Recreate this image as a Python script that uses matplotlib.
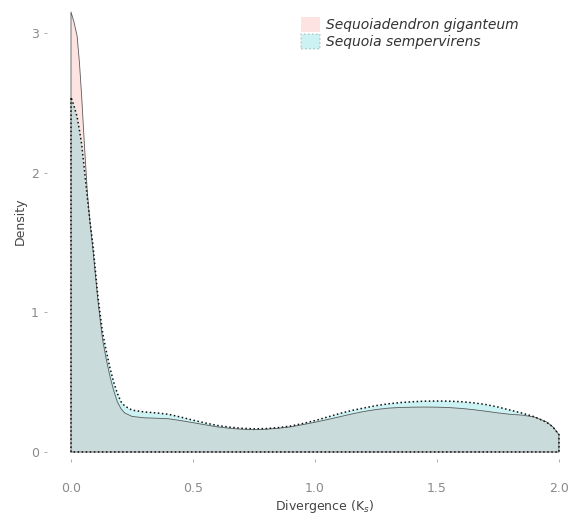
import numpy as np
import matplotlib.pyplot as plt
from matplotlib.patches import Patch

plt.rcParams['font.family'] = ['DejaVu Sans']

# divergence grid (Ks) and densities
ks = [0.0, 0.012, 0.025, 0.035, 0.044, 0.055, 0.067, 0.078, 0.09, 0.1, 0.11,
      0.12, 0.13, 0.145, 0.16, 0.175, 0.19, 0.205, 0.22, 0.25, 0.3, 0.35,
      0.4, 0.45, 0.5, 0.55, 0.6, 0.65, 0.7, 0.75, 0.8, 0.85, 0.9, 0.95, 1.0,
      1.05, 1.1, 1.15, 1.2, 1.25, 1.3, 1.35, 1.4, 1.45, 1.5, 1.55, 1.6, 1.65,
      1.7, 1.75, 1.8, 1.85, 1.9, 1.95, 1.975, 2.0]

giganteum = [3.15, 3.08, 2.98, 2.78, 2.54, 2.2, 1.86, 1.64, 1.45, 1.27, 1.09,
             0.94, 0.80, 0.66, 0.54, 0.44, 0.36, 0.31, 0.28, 0.255, 0.245, 0.242,
             0.238, 0.225, 0.21, 0.195, 0.18, 0.17, 0.163, 0.16, 0.163, 0.17, 0.18, 0.196, 0.213,
             0.232, 0.252, 0.272, 0.29, 0.304, 0.314, 0.319, 0.321, 0.322, 0.321, 0.318, 0.312, 0.303,
             0.292, 0.28, 0.27, 0.264, 0.25, 0.215, 0.18, 0.125]

sempervirens = [2.54, 2.48, 2.4, 2.3, 2.2, 2.02, 1.82, 1.65, 1.48, 1.3, 1.12,
                0.98, 0.85, 0.72, 0.6, 0.5, 0.42, 0.36, 0.33, 0.30, 0.287, 0.28,
                0.27, 0.25, 0.228, 0.208, 0.19, 0.178, 0.17, 0.166, 0.168, 0.175, 0.186, 0.204, 0.225,
                0.25, 0.275, 0.297, 0.315, 0.332, 0.345, 0.354, 0.36, 0.364, 0.365, 0.364, 0.36, 0.352,
                0.34, 0.322, 0.30, 0.278, 0.252, 0.212, 0.18, 0.125]

species = ['Sequoiadendron giganteum', 'Sequoia sempervirens']
fills = ['#F8766D', '#00BFC4']
xticks = [0.0, 0.5, 1.0, 1.5, 2.0]
yticks = [0, 1, 2, 3]

fig = plt.figure(figsize=(5.73, 5.19), dpi=100)
ax = fig.add_axes([0.0813, 0.1156, 0.9155, 0.8748])

# closed outlines (down to the baseline at both ends, like geom_density)
px = [ks[0]] + ks + [ks[-1]]
g = [0] + giganteum + [0]
s = [0] + sempervirens + [0]

ax.fill(px, g, facecolor=fills[0], alpha=0.2, edgecolor='none')
ax.plot(px + [px[0]], g + [0], '-', color='#5a5a5a', linewidth=0.6)
ax.fill(px, s, facecolor=fills[1], alpha=0.2, edgecolor='none')
ax.plot(px + [px[0]], s + [0], ':', color='#111111', linewidth=1.1)

ax.set_xlim(-0.1, 2.05)
ax.set_ylim(-0.05, 3.2)
ax.set_xticks(xticks)
ax.set_xticklabels(['%.1f' % t for t in xticks])
ax.set_yticks(yticks)
for sp in ax.spines.values():
    sp.set_visible(False)
ax.tick_params(colors='#a0a0a0', labelcolor='#8a8a8a', labelsize=9, length=2.5, width=0.6)
ax.tick_params(axis='x', pad=14)
ax.tick_params(axis='y', pad=3)

ax.set_xlabel('Divergence (K$_s$)', fontsize=9, color='#444444')
ax.set_ylabel('Density', fontsize=9, color='#444444')
ax.xaxis.set_label_coords(0.531, -0.086)
ax.yaxis.set_label_coords(-0.038, 0.524)

handles = [Patch(facecolor=fills[0], alpha=0.2, edgecolor='none'),
           Patch(facecolor=fills[1], alpha=0.2, edgecolor='#111111', linestyle=':', linewidth=1.1)]
leg = ax.legend(handles, species, loc='upper left', bbox_to_anchor=(0.485, 0.974),
                frameon=False, fontsize=10, handlelength=1.37, handleheight=1.3,
                handletextpad=0.4, labelspacing=0.13, borderaxespad=0, borderpad=0)
for t in leg.get_texts():
    t.set_fontstyle('italic')
    t.set_color('#333333')

fig.savefig('out.png', dpi=100)
